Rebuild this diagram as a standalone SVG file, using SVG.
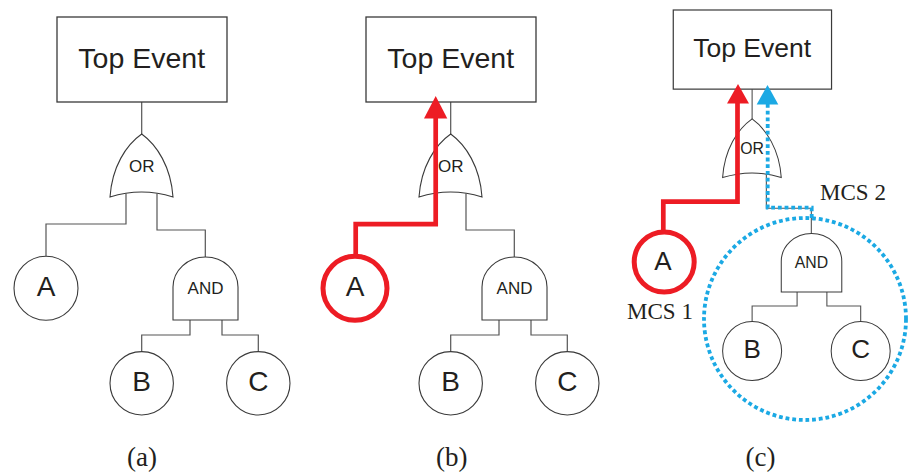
<svg xmlns="http://www.w3.org/2000/svg" width="908" height="473" viewBox="0 0 908 473">
  <style>
    .box{fill:#fff;stroke:#3a3a3a;stroke-width:1.3}
    .gate{fill:#fff;stroke:#3a3a3a;stroke-width:1.1}
    .evt{fill:#fff;stroke:#3a3a3a;stroke-width:1.1}
    .wire{fill:none;stroke:#555;stroke-width:1.2}
    .lbl{font-family:"Liberation Sans",Arial,sans-serif;fill:#231f20;text-anchor:middle}
    .cap{font-family:"Liberation Serif","Times New Roman",serif;fill:#231f20;text-anchor:middle}
    .hl-red{fill:none;stroke:#ed1c24;stroke-width:4.7}
    .ring-red{fill:none;stroke:#ed1c24;stroke-width:5}
    .head-red{fill:#ed1c24}
    .hl-blue{fill:none;stroke:#1ba9e4;stroke-width:3.8;stroke-dasharray:3.8 2.9}
    .head-blue{fill:#1ba9e4}
  </style>
  <rect width="908" height="473" fill="#fff"/>

  <!-- (a) plain fault tree -->
  <g id="panel-a">
    <g id="a-connectors">
      <path class="wire" d="M141.7,102 V134"/>
      <path class="wire" d="M126,193.5 V224 H46 V256.3"/>
      <path class="wire" d="M157,193.5 V230 H205.3 V257"/>
      <path class="wire" d="M190,320 V335 H141.7 V351.7"/>
      <path class="wire" d="M222,320 V335 H258.3 V351.7"/>
    </g>
    <g id="a-top">
      <rect class="box" x="57" y="17" width="170" height="85"/>
      <text class="lbl" x="141.7" y="68" font-size="28.5">Top Event</text>
    </g>
    <g id="a-or">
      <path class="gate" d="M141.7,134 C126,145 112,167 110,197 Q141.7,187 173,197 C171,167 157,145 141.7,134 Z"/>
      <text class="lbl" x="141.7" y="172" font-size="17">OR</text>
    </g>
    <g id="a-event-a">
      <circle class="evt" cx="46" cy="288.3" r="32"/>
      <text class="lbl" x="46" y="296" font-size="28">A</text>
    </g>
    <g id="a-and">
      <path class="gate" d="M173,320 V287 A32.5,30 0 0 1 238,287 V320 Z"/>
      <text class="lbl" x="205.5" y="294" font-size="17">AND</text>
    </g>
    <g id="a-event-b">
      <circle class="evt" cx="141.7" cy="383.3" r="31.7"/>
      <text class="lbl" x="141.7" y="391" font-size="28">B</text>
    </g>
    <g id="a-event-c">
      <circle class="evt" cx="258.3" cy="383.3" r="31.7"/>
      <text class="lbl" x="258.3" y="391" font-size="28">C</text>
    </g>
    <text class="cap" x="142" y="466" font-size="27">(a)</text>
  </g>

  <!-- (b) same tree, path from A highlighted -->
  <g id="panel-b">
    <g transform="translate(309,0)">
      <g id="b-connectors">
        <path class="wire" d="M141.7,102 V134"/>
        <path class="wire" d="M126,193.5 V224 H46 V256.3"/>
        <path class="wire" d="M157,193.5 V230 H205.3 V257"/>
        <path class="wire" d="M190,320 V335 H141.7 V351.7"/>
        <path class="wire" d="M222,320 V335 H258.3 V351.7"/>
      </g>
      <g id="b-top">
        <rect class="box" x="57" y="17" width="170" height="85"/>
        <text class="lbl" x="141.7" y="68" font-size="28.5">Top Event</text>
      </g>
      <g id="b-or">
        <path class="gate" d="M141.7,134 C126,145 112,167 110,197 Q141.7,187 173,197 C171,167 157,145 141.7,134 Z"/>
        <text class="lbl" x="141.7" y="172" font-size="17">OR</text>
      </g>
      <g id="b-event-a">
        <circle class="evt" cx="46" cy="288.3" r="32"/>
        <text class="lbl" x="46" y="296" font-size="28">A</text>
      </g>
      <g id="b-and">
        <path class="gate" d="M173,320 V287 A32.5,30 0 0 1 238,287 V320 Z"/>
        <text class="lbl" x="205.5" y="294" font-size="17">AND</text>
      </g>
      <g id="b-event-b">
        <circle class="evt" cx="141.7" cy="383.3" r="31.7"/>
        <text class="lbl" x="141.7" y="391" font-size="28">B</text>
      </g>
      <g id="b-event-c">
        <circle class="evt" cx="258.3" cy="383.3" r="31.7"/>
        <text class="lbl" x="258.3" y="391" font-size="28">C</text>
      </g>
    </g>
    <g id="b-highlight">
      <circle class="ring-red" cx="355" cy="288.3" r="32"/>
      <path class="hl-red" d="M355.7,257 V224.2 H435.7 V117"/>
      <polygon class="head-red" points="435.7,96 447.3,118.5 424,118.5"/>
    </g>
    <text class="cap" x="451.7" y="466" font-size="27">(b)</text>
  </g>

  <!-- (c) minimal cut sets -->
  <g id="panel-c">
    <g transform="translate(620.2,-5.83) scale(0.931)">
      <g id="c-connectors">
        <path class="wire" d="M141.7,102 V134"/>
        <path class="wire" d="M126,193.5 V224 H46 V256.3"/>
        <path class="wire" d="M157,193.5 V230 H205.3 V257"/>
        <path class="wire" d="M190,320 V335 H141.7 V351.7"/>
        <path class="wire" d="M222,320 V335 H258.3 V351.7"/>
      </g>
      <g id="c-top">
        <rect class="box" x="57" y="17" width="170" height="85"/>
        <text class="lbl" x="141.7" y="68" font-size="28.5">Top Event</text>
      </g>
      <g id="c-or">
        <path class="gate" d="M141.7,134 C126,145 112,167 110,197 Q141.7,187 173,197 C171,167 157,145 141.7,134 Z"/>
        <text class="lbl" x="141.7" y="172" font-size="17">OR</text>
      </g>
      <g id="c-event-a">
        <circle class="evt" cx="46" cy="288.3" r="32"/>
        <text class="lbl" x="46" y="296" font-size="28">A</text>
      </g>
      <g id="c-and">
        <path class="gate" d="M173,320 V287 A32.5,30 0 0 1 238,287 V320 Z"/>
        <text class="lbl" x="205.5" y="294" font-size="17">AND</text>
      </g>
      <g id="c-event-b">
        <circle class="evt" cx="141.7" cy="383.3" r="31.7"/>
        <text class="lbl" x="141.7" y="391" font-size="28">B</text>
      </g>
      <g id="c-event-c">
        <circle class="evt" cx="258.3" cy="383.3" r="31.7"/>
        <text class="lbl" x="258.3" y="391" font-size="28">C</text>
      </g>
    </g>
    <g id="c-mcs1">
      <circle class="ring-red" cx="664.2" cy="262" r="30"/>
      <path class="hl-red" d="M663.3,232 V201.7 H737.5 V102"/>
      <polygon class="head-red" points="738,84 749,103.5 727,103.5"/>
      <text class="cap" x="660" y="319.3" font-size="23">MCS 1</text>
    </g>
    <g id="c-mcs2">
      <circle class="hl-blue" cx="805" cy="319" r="101"/>
      <path class="hl-blue" d="M767.7,104 V207.7 H811.7 V219"/>
      <polygon class="head-blue" points="767.5,85 778.3,104.5 756.7,104.5"/>
      <text class="cap" x="853" y="200" font-size="23">MCS 2</text>
    </g>
    <text class="cap" x="760.5" y="466" font-size="27">(c)</text>
  </g>
</svg>
